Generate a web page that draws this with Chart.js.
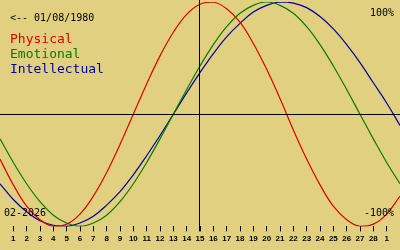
<!DOCTYPE html>
<html>
<head>
<meta charset="utf-8">
<script src="https://cdn.jsdelivr.net/npm/chart.js@4"></script>
<style>
  html, body { margin: 0; padding: 0; background: #e0d080; }
  #wrap { width: 400px; height: 250px; position: relative; }
</style>
</head>
<body>
<div id="wrap"><canvas id="c" width="400" height="250"></canvas></div>
<script>
// Day positions (0 = last day of previous month, 30 = March 2)
const days = [0,1,2,3,4,5,6,7,8,9,10,11,12,13,14,15,16,17,18,19,20,21,22,23,24,25,26,27,28,29,30];
// Values (-1 .. 1)
const physical = [-0.40,-0.63,-0.82,-0.94,-1.00,-0.98,-0.89,-0.73,-0.52,-0.27,0.00,0.27,0.52,0.73,0.89,0.98,1.00,0.94,0.82,0.63,0.40,0.14,-0.14,-0.40,-0.63,-0.82,-0.94,-1.00,-0.98,-0.89,-0.73];
const emotional = [-0.22,-0.43,-0.62,-0.78,-0.90,-0.97,-1.00,-0.97,-0.90,-0.78,-0.62,-0.43,-0.22,0.00,0.22,0.43,0.62,0.78,0.90,0.97,1.00,0.97,0.90,0.78,0.62,0.43,0.22,0.00,-0.22,-0.43,-0.62];
const intellectual = [-0.62,-0.76,-0.87,-0.95,-0.99,-1.00,-0.97,-0.91,-0.81,-0.69,-0.54,-0.37,-0.19,0.00,0.19,0.37,0.54,0.69,0.81,0.91,0.97,1.00,0.99,0.95,0.87,0.76,0.62,0.46,0.28,0.10,-0.10];
// Tick positions and labels
const tickDays = [1,2,3,4,5,6,7,8,9,10,11,12,13,14,15,16,17,18,19,20,21,22,23,24,25,26,27,28,29];
const tickLabels = ['1','2','3','4','5','6','7','8','9','10','11','12','13','14','15','16','17','18','19','20','21','22','23','24','25','26','27','28','1'];
const todayDay = 15;
const birthText = '<-- 01/08/1980';
const monthText = '02-2026';
const seriesNames = ['Physical','Emotional','Intellectual'];
const colors = ['#e00000','#0a7a00','#0000a0'];
const BG = '#e0d080';
const MONO = '"DejaVu Sans Mono", "Liberation Mono", monospace';

const toPts = arr => arr.map((v, i) => ({ x: days[i], y: v }));

const overlay = {
  id: 'overlay',
  beforeDraw(chart) {
    const ctx = chart.ctx;
    ctx.save();
    ctx.fillStyle = BG;
    ctx.fillRect(0, 0, chart.width, chart.height);
    ctx.restore();
  },
  afterDatasetsDraw(chart) {
    const ctx = chart.ctx;
    const xs = chart.scales.x, ys = chart.scales.y;
    const a = chart.chartArea;
    ctx.save();
    ctx.strokeStyle = '#000';
    ctx.lineWidth = 1;
    const y0 = Math.round(ys.getPixelForValue(0)) + 0.5;
    ctx.beginPath();
    ctx.moveTo(0, y0); ctx.lineTo(chart.width, y0);
    ctx.stroke();
    const xt = Math.round(xs.getPixelForValue(todayDay)) - 0.5;
    ctx.beginPath();
    ctx.moveTo(xt, 0); ctx.lineTo(xt, a.bottom + 5);
    ctx.stroke();
    ctx.restore();
  },
  afterDraw(chart) {
    const ctx = chart.ctx;
    ctx.save();
    ctx.textBaseline = 'alphabetic';
    ctx.fillStyle = '#000';
    ctx.font = '10px ' + MONO;
    ctx.textAlign = 'left';
    ctx.fillText(birthText, 10, 20.5);
    ctx.fillText(monthText, 4, 216);
    ctx.textAlign = 'right';
    ctx.fillText('100%', 394, 16);
    ctx.fillText('-100%', 394, 216);
    ctx.textAlign = 'left';
    ctx.font = '13px ' + MONO;
    seriesNames.forEach((n, i) => {
      ctx.fillStyle = colors[i];
      ctx.fillText(n, 10, 42.5 + i * 15);
    });
    ctx.restore();
  }
};

new Chart(document.getElementById('c'), {
  type: 'line',
  data: {
    datasets: [
      { label: seriesNames[0], data: toPts(physical), borderColor: colors[0] },
      { label: seriesNames[1], data: toPts(emotional), borderColor: colors[1] },
      { label: seriesNames[2], data: toPts(intellectual), borderColor: colors[2] }
    ].map(d => Object.assign(d, { borderWidth: 1.2, pointRadius: 0, tension: 0.4, fill: false }))
  },
  options: {
    responsive: false,
    animation: false,
    layout: { padding: { top: 2, bottom: 3, left: 0, right: 0 } },
    plugins: { legend: { display: false }, tooltip: { enabled: false } },
    scales: {
      x: {
        type: 'linear', min: 0, max: 30,
        afterBuildTicks: s => { s.ticks = tickDays.map(v => ({ value: v })); },
        ticks: {
          autoSkip: false, maxRotation: 0, padding: 3, color: '#000',
          font: { family: '"Liberation Sans", Arial, sans-serif', size: 8, weight: 'bold' },
          callback: (v, i) => tickLabels[i]
        },
        grid: { drawOnChartArea: false, drawTicks: true, tickLength: 5, color: '#000', lineWidth: 1 },
        border: { display: false }
      },
      y: { display: false, min: -1, max: 1 }
    }
  },
  plugins: [overlay]
});
</script>
</body>
</html>
